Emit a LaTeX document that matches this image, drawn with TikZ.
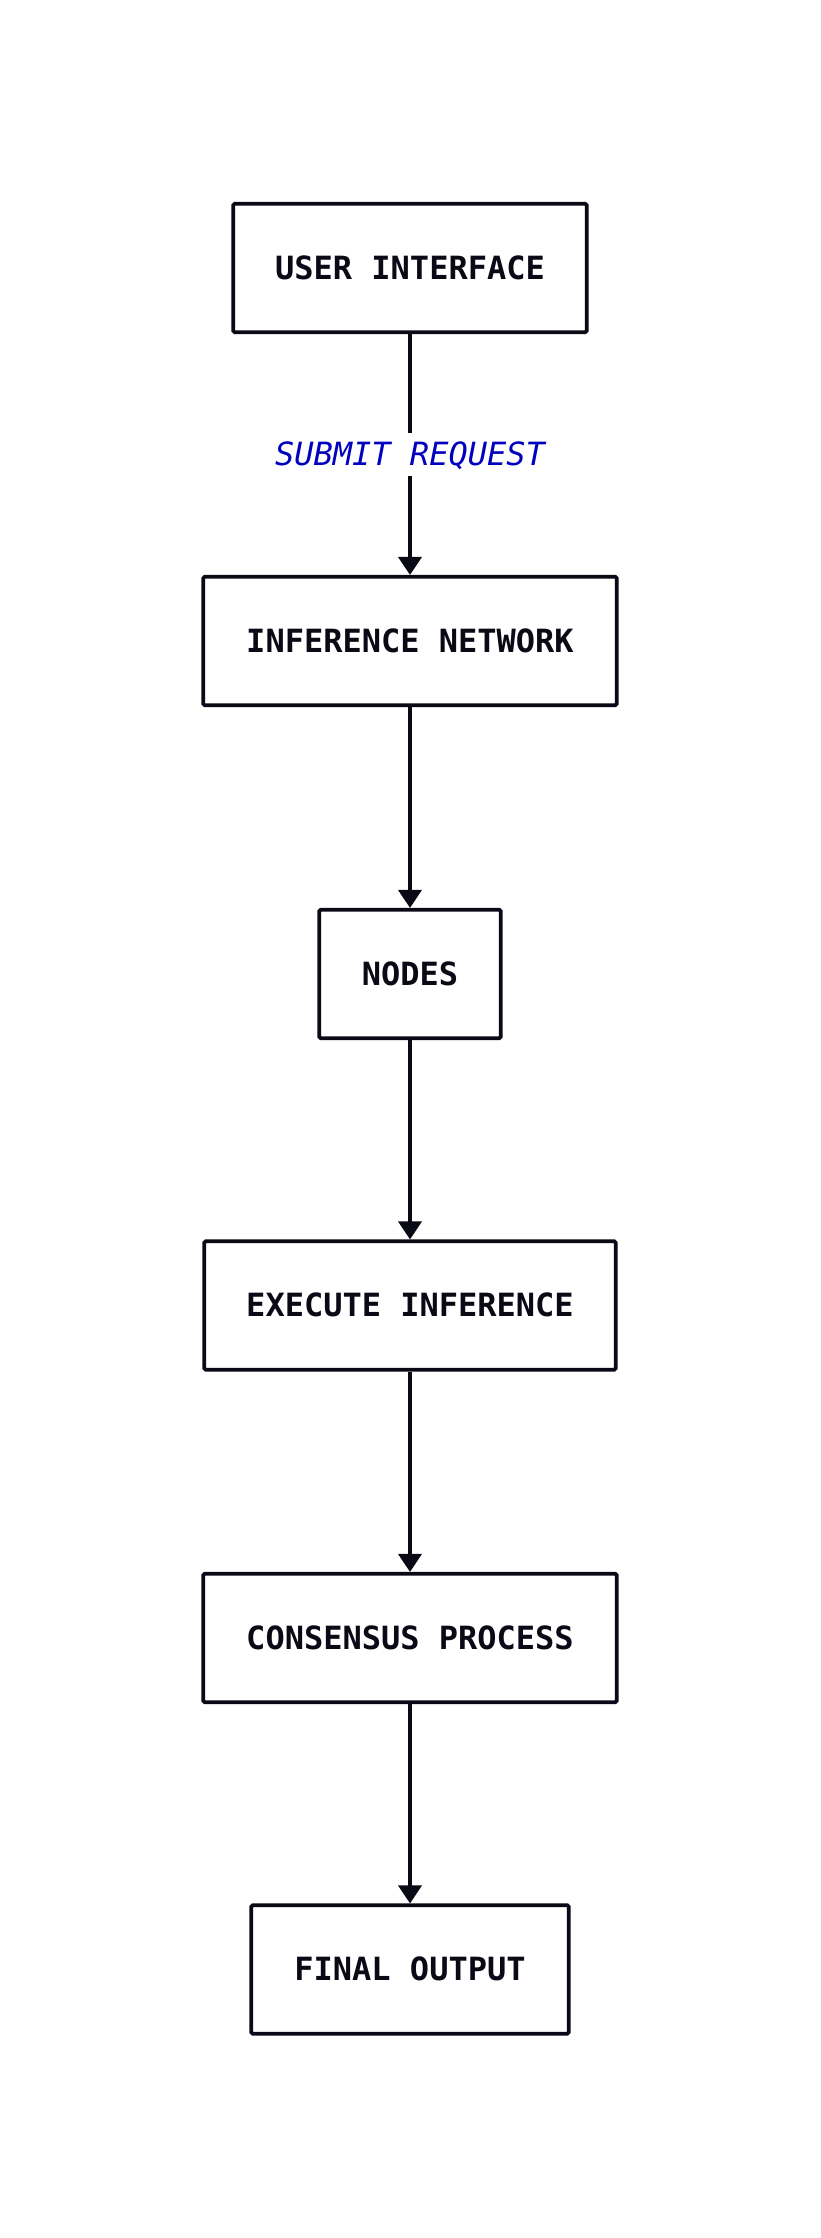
\documentclass[tikz,border=0pt]{standalone}
\usepackage{fontspec}
\setmonofont{DejaVu Sans Mono}
\usetikzlibrary{arrows.meta}
\definecolor{ink}{HTML}{0A0A16}
\definecolor{lblue}{RGB}{0,0,190}
\tikzset{
  flowbox/.style={draw=ink, line width=3.6pt, rounded corners=1.5pt, fill=white,
    minimum height=128.5pt, inner sep=0pt, text height=22pt, text depth=0pt,
    font=\fontsize{32}{32}\selectfont\ttfamily\bfseries, text=ink},
  flowarrow/.style={draw=ink, line width=3.6pt, -{Triangle[length=18pt,width=23pt]}},
  flowlabel/.style={fill=white, inner xsep=2pt, inner ysep=10.5pt, text height=22pt, text depth=0pt,
    font=\fontsize{32}{32}\selectfont\ttfamily\itshape, text=lblue}
}
\begin{document}
\begin{tikzpicture}[x=1pt,y=1pt]
\useasboundingbox (0,0) rectangle (820,-2238);
\fill[white] (0,0) rectangle (820,-2238);
\node[flowbox, minimum width=353.5pt] (ui) at (410,-268) {USER INTERFACE};
\node[flowbox, minimum width=413.5pt] (net) at (410,-641) {INFERENCE NETWORK};
\node[flowbox, minimum width=181.5pt] (nodes) at (410,-974) {NODES};
\node[flowbox, minimum width=411.5pt] (exec) at (410,-1305.5) {EXECUTE INFERENCE};
\node[flowbox, minimum width=413.5pt] (cons) at (410,-1638) {CONSENSUS PROCESS};
\node[flowbox, minimum width=317.5pt] (final) at (410,-1969.5) {FINAL OUTPUT};
\draw[flowarrow] (ui) -- node[flowlabel] {SUBMIT REQUEST} (net);
\draw[flowarrow] (net) -- (nodes);
\draw[flowarrow] (nodes) -- (exec);
\draw[flowarrow] (exec) -- (cons);
\draw[flowarrow] (cons) -- (final);
\end{tikzpicture}
\end{document}
